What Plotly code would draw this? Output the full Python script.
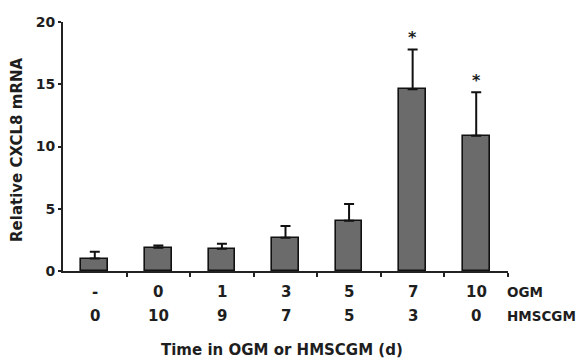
import plotly.graph_objects as go

ogm_days = ["-", "0", "1", "3", "5", "7", "10"]
hmscgm_days = ["0", "10", "9", "7", "5", "3", "0"]
cxcl8 = [1.0, 1.86, 1.78, 2.68, 4.04, 14.6, 10.86]
cxcl8_err = [0.55, 0.18, 0.4, 0.93, 1.34, 3.2, 3.5]
significant = [False, False, False, False, False, True, True]
y_ticks = [0, 5, 10, 15, 20]

FONT = "DejaVu Sans, Arial, sans-serif"
TXT = "#1e1e1e"
xs = list(range(len(cxcl8)))

OFF = 8                   # browser default body margin
W, H = 586 - OFF, 363 - OFF
L, R = 63 - OFF, 508 - OFF        # plot area pixel edges (x), figure coords
T, B = 21.5 - OFF, 271.5 - OFF    # plot area pixel edges (y), figure coords

def px2x(px):
    return (px - OFF - L) / (R - L)

def py2y(py):
    return (B - (py - OFF)) / (B - T)

fig = go.Figure()
fig.add_trace(go.Bar(
    x=xs, y=cxcl8, width=0.42,
    marker=dict(color="#6b6b6b", line=dict(color="#111111", width=1.6)),
    error_y=dict(type="data", array=cxcl8_err, arrayminus=[0] * len(cxcl8),
                 symmetric=False, color="#111111", thickness=2, width=5),
))

ann = []
for i, (v, e, s) in enumerate(zip(cxcl8, cxcl8_err, significant)):
    if s:
        ann.append(dict(x=i, y=v + e, xref="x", yref="y", text="<b>*</b>", showarrow=False,
                        yanchor="bottom", yshift=0, font=dict(family=FONT, size=16, color=TXT)))
lab_font = dict(family=FONT, size=15, color=TXT)
side_font = dict(family=FONT, size=13.5, color=TXT)
for i, (a, b) in enumerate(zip(ogm_days, hmscgm_days)):
    ann.append(dict(x=i, y=py2y(293), xref="x", yref="paper", text="<b>%s</b>" % a,
                    showarrow=False, font=lab_font, yanchor="middle"))
    ann.append(dict(x=i, y=py2y(317), xref="x", yref="paper", text="<b>%s</b>" % b,
                    showarrow=False, font=lab_font, yanchor="middle"))
ann.append(dict(x=px2x(506), y=py2y(293), xref="paper", yref="paper", text="<b>OGM</b>",
                showarrow=False, xanchor="left", yanchor="middle", font=side_font, borderpad=0))
ann.append(dict(x=px2x(506), y=py2y(317), xref="paper", yref="paper", text="<b>HMSCGM</b>",
                showarrow=False, xanchor="left", yanchor="middle", font=side_font, borderpad=0))
ann.append(dict(x=px2x(282), y=py2y(351), xref="paper", yref="paper",
                text="<b>Time in OGM or HMSCGM (d)</b>", showarrow=False, xanchor="center",
                yanchor="middle", font=lab_font))
ann.append(dict(x=px2x(17), y=py2y(150), xref="paper", yref="paper",
                text="<b>Relative CXCL8 mRNA</b>", showarrow=False, textangle=-90,
                xanchor="center", yanchor="middle", font=dict(family=FONT, size=15, color=TXT)))

fig.update_layout(
    width=W, height=H,
    margin=dict(l=L, r=W - R, t=T, b=H - B, pad=0),
    plot_bgcolor="white", paper_bgcolor="white",
    showlegend=False, bargap=0,
    annotations=ann,
    xaxis=dict(range=[-0.5, 6.5], tickvals=[i + 0.5 for i in range(7)], ticktext=[""] * 7,
               ticks="outside", ticklen=4, tickwidth=1.5, tickcolor="#222",
               showline=True, linecolor="#222", linewidth=2, showgrid=False, zeroline=False,
               automargin=False, fixedrange=True),
    yaxis=dict(range=[0, 20], tickvals=y_ticks, ticktext=["<b>%d</b>" % v for v in y_ticks],
               ticks="outside", ticklen=3, tickwidth=1.5,
               tickcolor="#222", showline=True, linecolor="#222", linewidth=2,
               showgrid=False, zeroline=False, automargin=False,
               tickfont=dict(family=FONT, size=14, color=TXT)),
)
fig.write_html("out.html")
